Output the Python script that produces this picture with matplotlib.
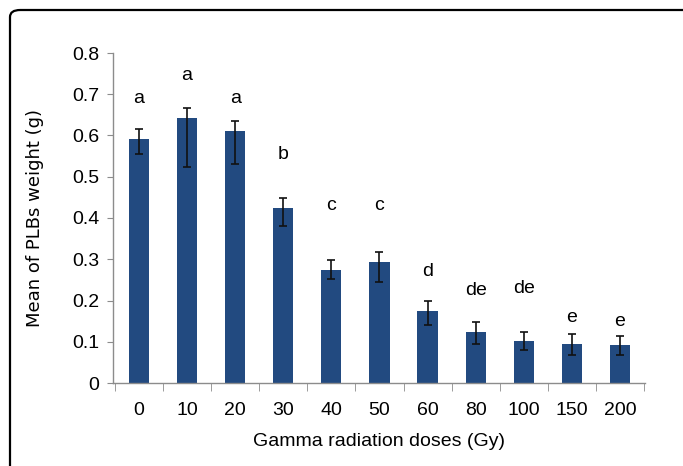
import matplotlib; matplotlib.use("Agg")
import matplotlib.pyplot as plt
from matplotlib.patches import FancyBboxPatch
import numpy as np

doses = ["0", "10", "20", "30", "40", "50", "60", "80", "100", "150", "200"]
means = [0.591, 0.643, 0.611, 0.425, 0.273, 0.293, 0.175, 0.123, 0.103, 0.095, 0.091]
err_hi = [0.615, 0.667, 0.634, 0.449, 0.297, 0.317, 0.200, 0.147, 0.123, 0.119, 0.114]
err_lo = [0.555, 0.524, 0.532, 0.381, 0.251, 0.244, 0.141, 0.094, 0.079, 0.069, 0.068]
letters = ["a", "a", "a", "b", "c", "c", "d", "de", "de", "e", "e"]
letter_y = [0.69, 0.745, 0.69, 0.555, 0.43, 0.43, 0.27, 0.225, 0.23, 0.16, 0.148]

plt.rcParams["font.family"] = ["Liberation Sans", "DejaVu Sans"]
BAR = "#224a80"
GREY = "#8c8c8c"

fig = plt.figure(figsize=(6.83, 4.66), dpi=100)
# rounded frame around the figure, running off the right and bottom edges
frame = FancyBboxPatch((10/683, -0.2), 1.2, 1 - 10/466 + 0.2,
                       boxstyle="round,pad=0,rounding_size=0.015",
                       transform=fig.transFigure, fill=False, ec="black", lw=1.6)
fig.patches.append(frame)

ax = fig.add_axes([113/683, 83/466, 532/683, 330/466])
x = np.arange(len(doses))
m = np.array(means)
yerr = [m - np.array(err_lo), np.array(err_hi) - m]
ax.bar(x, means, 0.42, color=BAR, zorder=2)
ax.errorbar(x, means, yerr=yerr, fmt="none", ecolor="#111111", elinewidth=1.2,
            capsize=3, capthick=1.2, zorder=3)
for xi, t, ty in zip(x, letters, letter_y):
    ax.text(xi, ty, t, ha="center", va="center", fontsize=14)

ax.set_xlim(-0.54, 10.52)
ax.set_ylim(0, 0.8)
ax.set_yticks(np.arange(0, 0.81, 0.1))
ax.set_yticklabels(["0"] + [f"{v:.1f}" for v in np.arange(0.1, 0.81, 0.1)])
ax.set_xticks(x)
ax.set_xticklabels(doses)
ax.set_xticks(np.arange(-0.5, 11, 1), minor=True)
ax.tick_params(axis="x", which="major", length=0, pad=14, labelsize=14)
ax.tick_params(axis="x", which="minor", length=6, color=GREY, direction="out")
ax.tick_params(axis="y", length=4, color=GREY, labelsize=14, pad=6)
for s in ["top", "right"]:
    ax.spines[s].set_visible(False)
for s in ["left", "bottom"]:
    ax.spines[s].set_color(GREY)
    ax.spines[s].set_linewidth(1.0)
ax.set_xlabel("Gamma radiation doses (Gy)", fontsize=14, labelpad=10)
ax.set_ylabel("Mean of PLBs weight (g)", fontsize=13, labelpad=20,
              family=["DejaVu Sans"])

fig.savefig("out.png", dpi=100)
